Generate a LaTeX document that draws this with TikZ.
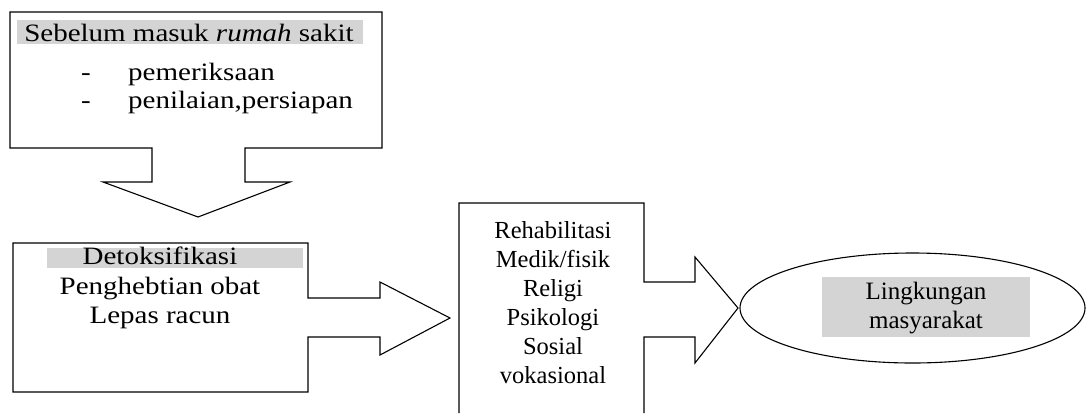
\documentclass[tikz,border=0pt]{standalone}
\usepackage{fontspec}
\setmainfont{Liberation Serif}
\newfontfamily\widefont{Liberation Serif}[FakeStretch=1.16]
\begin{document}
\begin{tikzpicture}[x=1pt,y=-1pt,
  shp/.style={draw=black,line width=1.1pt,line join=miter},
  hl/.style={fill=black!17},
  txt/.style={font=\fontsize{25}{29.5}\selectfont,inner sep=0pt,align=center},
  wtxt/.style={font=\widefont\fontsize{25}{29.5}\selectfont,inner sep=0pt,align=center}]
\useasboundingbox (0,0) rectangle (1086,413);
% highlights
\fill[hl] (17,20) rectangle (363,44);
\fill[hl] (47,248) rectangle (303,268);
\fill[hl] (822,277) rectangle (1030,337);
% top callout with down arrow
\draw[shp] (10,12) -- (382,12) -- (382,148) -- (245,148) -- (245,182) -- (290,182)
  -- (198,217) -- (103,182) -- (152,182) -- (152,148) -- (10,148) -- cycle;
% detox callout with right arrow
\draw[shp] (13,243) -- (308,243) -- (308,298) -- (380,298) -- (380,282) -- (450,318)
  -- (380,355) -- (380,337) -- (308,337) -- (308,392) -- (13,392) -- cycle;
% rehab callout with right arrow (open bottom)
\draw[shp] (459,413) -- (459,203) -- (644,203) -- (644,282) -- (695,282) -- (695,257)
  -- (738,308) -- (695,363) -- (695,337) -- (644,337) -- (644,413);
% ellipse
\draw[line width=1.1pt] (912.5,308) ellipse [x radius=172.5, y radius=55];
% texts
\node[wtxt] (t1) at (189,33) {Sebelum masuk \textit{rumah} sakit};
\node[wtxt,anchor=base] (d1) at (86,80) {-};
\node[wtxt,anchor=base] (d2) at (86,108) {-};
\node[wtxt,anchor=base west] (p1) at (128,80) {pemeriksaan};
\node[wtxt,anchor=base west] (p2) at (128,108) {penilaian,persiapan};
\node[wtxt] (det) at (160,288) {Detoksifikasi\\Penghebtian obat\\Lepas racun};
\node[txt,font=\fontsize{24.5}{29}\selectfont] (reh) at (553,303) {Rehabilitasi\\Medik/fisik\\Religi\\Psikologi\\Sosial\\vokasional};
\node[txt] (lng) at (926,308) {Lingkungan\\masyarakat};
\end{tikzpicture}
\end{document}
